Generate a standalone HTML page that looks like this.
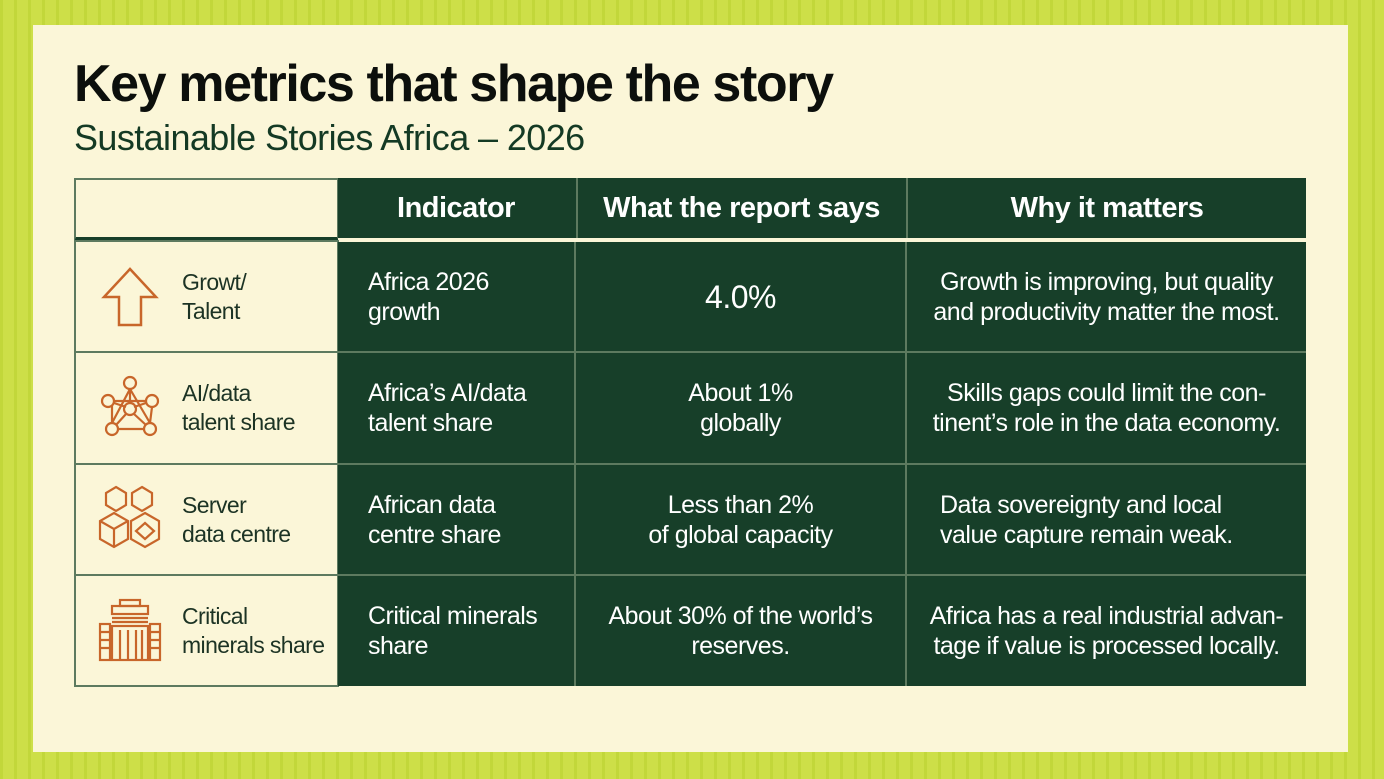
<!DOCTYPE html>
<html><head><meta charset="utf-8"><style>
*{margin:0;padding:0;box-sizing:border-box}
body{width:1384px;height:779px;overflow:hidden;background:#cddf48;font-family:"Liberation Sans",sans-serif;position:relative}
.pat{position:absolute;inset:0;background:
repeating-linear-gradient(90deg,rgba(180,205,40,.45) 0 3px,transparent 3px 14px);}
.card{position:absolute;left:33px;top:25px;width:1315px;height:727px;background:#fbf6d8}
h1{position:absolute;left:74px;top:54px;font-size:52px;font-weight:bold;letter-spacing:-1.4px;color:#0c0f0c}
h2{position:absolute;left:74px;top:117px;font-size:36px;font-weight:normal;letter-spacing:-0.6px;color:#143a24}
.c{position:absolute;display:flex;align-items:center}
.g{background:#173f29;color:#fff;font-size:25px;letter-spacing:-.5px;line-height:30px}
.hd{font-weight:bold;font-size:29px;justify-content:center}
.l{background:#fbf6d8;border:2px solid #5d7a5f;color:#1c3324;font-size:23px;line-height:29px;letter-spacing:-.6px}
.ctr{justify-content:center;text-align:center}
svg{position:absolute}
</style></head><body>
<div class="pat"></div>
<div class="card"></div>
<h1>Key metrics that shape the story</h1>
<h2>Sustainable Stories Africa – 2026</h2>
<div class="c l" style="left:74px;top:178px;width:265px;height:64px;border-bottom:5px solid #173f29"></div>
<div class="c g" style="left:338px;top:178px;width:968px;height:64px;border-bottom:4px solid #fbf6d8"></div>
<div class="c g hd" style="left:338px;top:178px;width:236px;height:60px">Indicator</div>
<div class="c g hd" style="left:576px;top:178px;width:329px;height:60px;border-left:2px solid #5d7a5f">What the report says</div>
<div class="c g hd" style="left:906px;top:178px;width:400px;height:60px;border-left:2px solid #5d7a5f">Why it matters</div>

<div class="c l" style="left:74px;top:240px;width:265px;height:113px;padding-left:106px">Growt/<br>Talent</div>
<div class="c l" style="left:74px;top:351px;width:265px;height:114px;padding-left:106px">AI/data<br>talent share</div>
<div class="c l" style="left:74px;top:463px;width:265px;height:113px;padding-left:106px">Server<br>data centre</div>
<div class="c l" style="left:74px;top:574px;width:265px;height:113px;padding-left:106px">Critical<br>minerals share</div>

<div style="position:absolute;left:338px;top:242px;width:968px;height:444px;background:#173f29"></div>
<div style="position:absolute;left:574px;top:242px;width:2px;height:444px;background:#5d7a5f"></div>
<div style="position:absolute;left:905px;top:242px;width:2px;height:444px;background:#5d7a5f"></div>
<div style="position:absolute;left:338px;top:351px;width:968px;height:2px;background:#5d7a5f"></div>
<div style="position:absolute;left:338px;top:463px;width:968px;height:2px;background:#5d7a5f"></div>
<div style="position:absolute;left:338px;top:574px;width:968px;height:2px;background:#5d7a5f"></div>

<div class="c g" style="left:368px;top:242px;width:200px;height:110px;background:none">Africa 2026<br>growth</div>
<div class="c g" style="left:368px;top:353px;width:200px;height:110px;background:none">Africa’s AI/data<br>talent share</div>
<div class="c g" style="left:368px;top:465px;width:200px;height:110px;background:none">African data<br>centre share</div>
<div class="c g" style="left:368px;top:576px;width:200px;height:110px;background:none">Critical minerals<br>share</div>

<div class="c g ctr" style="left:576px;top:242px;width:329px;height:110px;background:none;font-size:32px">4.0%</div>
<div class="c g ctr" style="left:576px;top:353px;width:329px;height:110px;background:none">About 1%<br>globally</div>
<div class="c g ctr" style="left:576px;top:465px;width:329px;height:110px;background:none">Less than 2%<br>of global capacity</div>
<div class="c g ctr" style="left:576px;top:576px;width:329px;height:110px;background:none">About 30% of the world’s<br>reserves.</div>

<div class="c g ctr" style="left:907px;top:242px;width:399px;height:110px;background:none">Growth is improving, but quality<br>and productivity matter the most.</div>
<div class="c g ctr" style="left:907px;top:353px;width:399px;height:110px;background:none">Skills gaps could limit the con-<br>tinent’s role in the data economy.</div>
<div class="c g" style="left:940px;top:465px;width:366px;height:110px;background:none">Data sovereignty and local<br>value capture remain weak.</div>
<div class="c g ctr" style="left:907px;top:576px;width:399px;height:110px;background:none">Africa has a real industrial advan-<br>tage if value is processed locally.</div>

<svg style="left:100px;top:265px" width="60" height="65" viewBox="0 0 60 65" fill="none" stroke="#c8662a" stroke-width="2.5"><path d="M30 4 L4 32 H19 V60 H41 V32 H56 Z"/></svg>
<svg style="left:98px;top:375px" width="64" height="65" viewBox="0 0 64 65" fill="none" stroke="#c8662a" stroke-width="2.2"><circle cx="32" cy="8" r="6"/><circle cx="10" cy="26" r="6"/><circle cx="54" cy="26" r="6"/><circle cx="32" cy="34" r="6"/><circle cx="14" cy="54" r="6"/><circle cx="52" cy="54" r="6"/><path d="M32 14 L14 48 M32 14 L52 48 M16 26 H48 M20 54 H46 M14 30 V48 M54 32 L52 48 M16 28 L28 32 M48 28 L36 32 M28 39 L18 50 M36 39 L48 50 M32 14 V28"/></svg>
<svg style="left:98px;top:485px" width="64" height="68" viewBox="0 0 64 68" fill="none" stroke="#c8662a" stroke-width="2.2"><path d="M18 2 L28 8 V20 L18 26 L8 20 V8 Z"/><path d="M44 2 L54 8 V20 L44 26 L34 20 V8 Z"/><path d="M16 28 L30 36 V54 L16 62 L2 54 V36 Z"/><path d="M2 36 L16 44 L30 36 M16 44 V62"/><path d="M47 28 L61 36 V54 L47 62 L33 54 V36 Z"/><path d="M47 38 L56 46 L47 54 L38 46 Z"/></svg>
<svg style="left:98px;top:598px" width="64" height="64" viewBox="0 0 64 64" fill="none" stroke="#c8662a" stroke-width="2.2"><rect x="22" y="2" width="20" height="6"/><rect x="14" y="8" width="36" height="8"/><path d="M14 20 H50 M14 24 H50"/><rect x="2" y="26" width="10" height="36"/><rect x="52" y="26" width="10" height="36"/><rect x="14" y="28" width="36" height="34"/><path d="M2 34 H12 M2 42 H12 M2 50 H12 M52 34 H62 M52 42 H62 M52 50 H62 M22 32 V62 M30 32 V62 M38 32 V62 M44 32 V62"/></svg>
</body></html>
